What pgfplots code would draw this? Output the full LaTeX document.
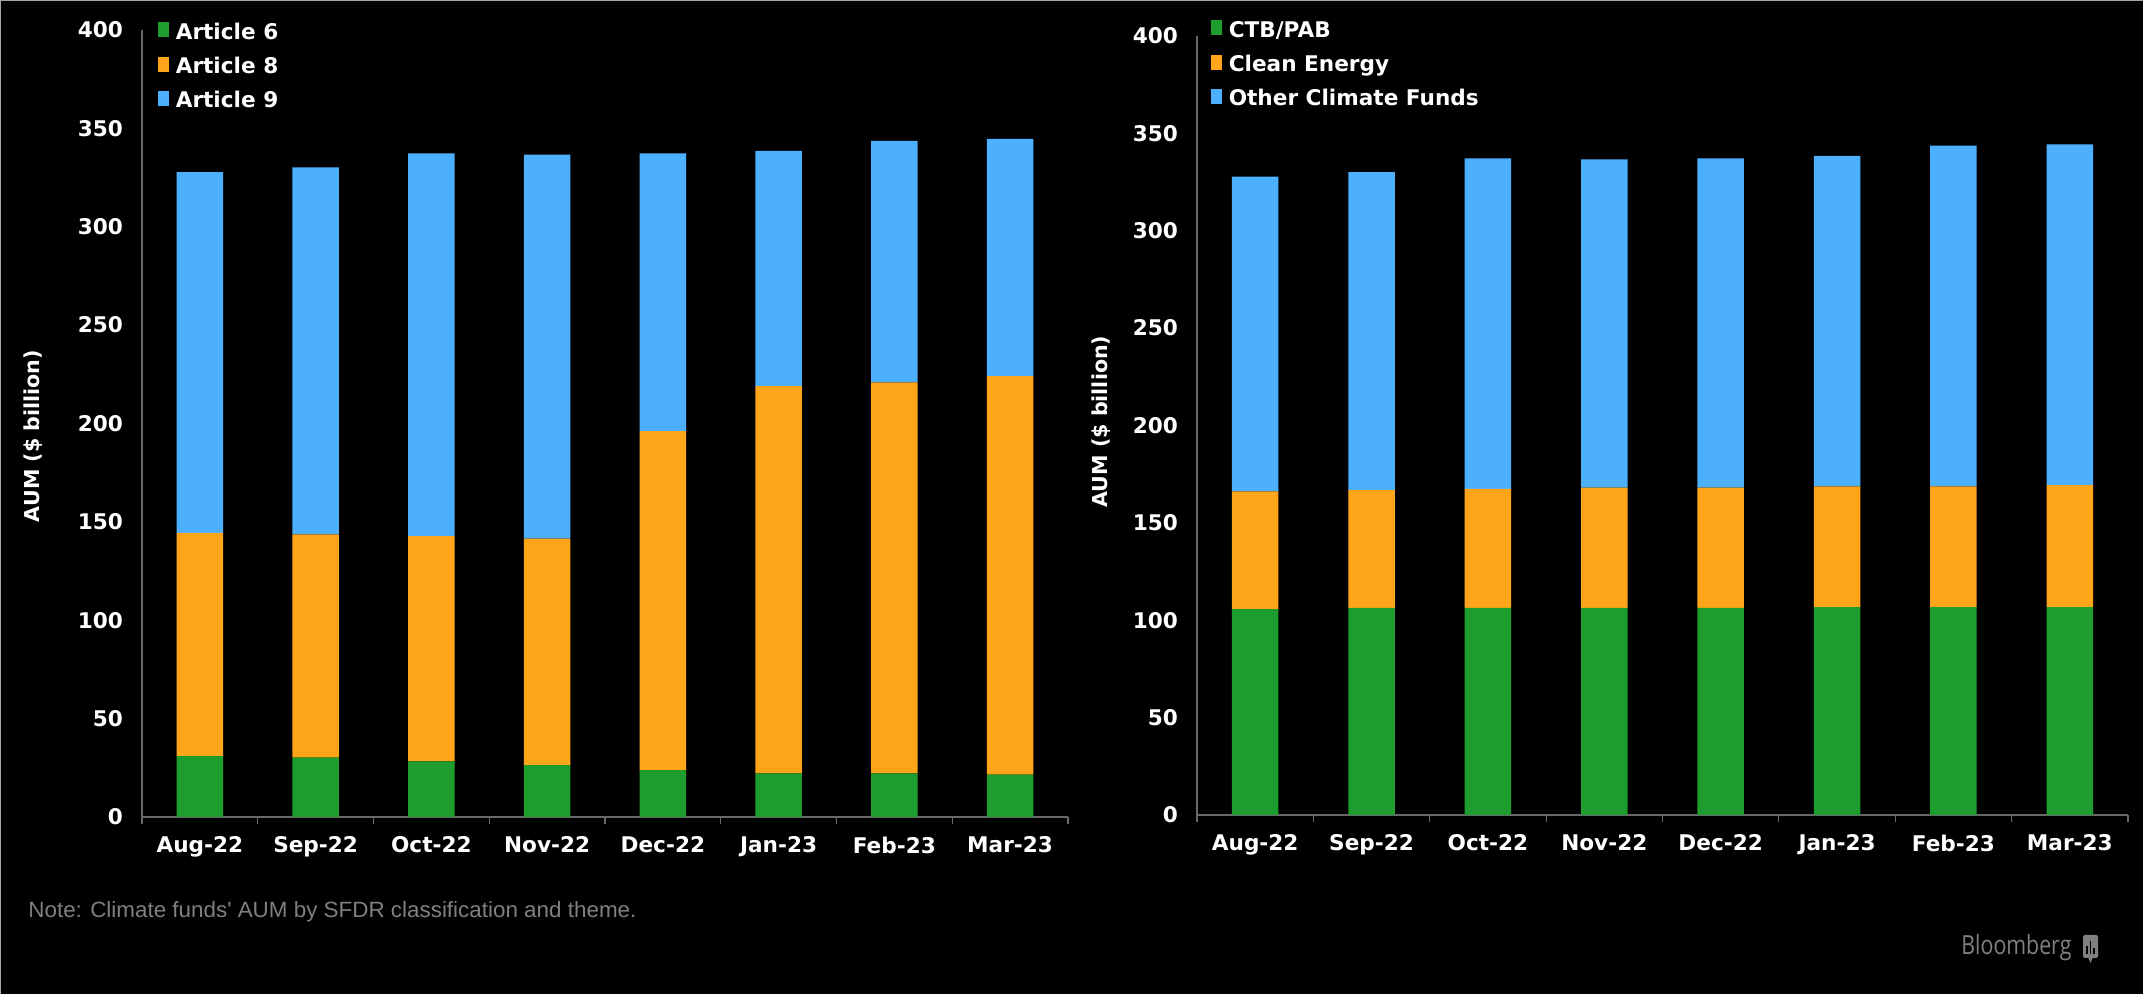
\documentclass[border=0pt]{standalone}
\usepackage{pgfplots}
\pgfplotsset{compat=1.18}
\usepackage{fontspec}
\setmainfont{DejaVu Sans}
\newfontfamily\notefont{Liberation Sans}
\newfontfamily\logofont{Open Sans}

\definecolor{cgreen}{RGB}{28,157,46}
\definecolor{corange}{RGB}{255,165,26}
\definecolor{cblue}{RGB}{77,176,255}
\definecolor{axgray}{RGB}{105,105,105}
\definecolor{notegray}{RGB}{128,128,128}

\pgfplotsset{
  ybar legend/.style={
    legend image code/.code={\fill[##1] (0pt,-3pt) rectangle (6pt,3pt);}
  },
  aum/.style={
    scale only axis,
    ybar stacked,
    bar width=0.4,
    xmin=-0.5, xmax=7.5,
    ymin=0, ymax=400,
    axis lines=left,
    axis line style={axgray, line width=0.6pt, -},
    xtick={0,...,7},
    xticklabels={Aug-22,Sep-22,Oct-22,Nov-22,Dec-22,Jan-23,Feb-23,Mar-23},
    minor xtick={-0.5,0.5,...,7.5},
    major tick length=0pt,
    minor tick length=3.5pt,
    tick align=outside,
    every minor tick/.style={axgray, line width=0.6pt},
    ytick={0,50,...,400},
    /pgf/number format/assume math mode=true,
    tick label style={font=\bfseries\fontsize{10.8}{12}\selectfont, text=white},
    xticklabel style={yshift=-6.4pt},
    yticklabel style={anchor=east, xshift=-6pt},
    label style={font=\bfseries\fontsize{10.3}{12}\selectfont, text=white},
    ylabel={AUM (\$ billion)},
    legend cell align=left,
    legend style={at={(axis description cs:0,1)}, anchor=north west,
      draw=none, fill=none, text=white, inner sep=0pt,
      font=\bfseries\fontsize{10.8}{12}\selectfont,
      row sep=4.6pt,
      /tikz/every odd column/.append style={column sep=1.8pt},
      nodes={inner sep=1pt, text height=8pt, text depth=2.5pt}},
  },
}

\begin{document}
\begin{tikzpicture}
\fill[black] (0,0) rectangle (1071.5pt,497pt);
\useasboundingbox (0,0) rectangle (1071.5pt,497pt);
\draw[gray!70, line width=1pt] (0,0) -- (0,497pt) -- (1071.5pt,497pt);

% left: SFDR classification
\begin{axis}[aum,
  at={(71pt,88.5pt)}, anchor=south west,
  width=463pt, height=393.5pt,
  ylabel style={at={(axis description cs:0,0.484)}, anchor=center, yshift=54.5pt},
  legend style={xshift=7.5pt, yshift=4.5pt},
]
\addplot[fill=cgreen, draw=none] coordinates {
(0,30.9) (1,30.2) (2,28.3) (3,26.4) (4,23.8) (5,22.2) (6,22.2) (7,21.5)};
\addplot[fill=corange, draw=none] coordinates {
(0,113.5) (1,113.5) (2,114.5) (3,115.1) (4,172.3) (5,196.8) (6,198.7) (7,202.6)};
\addplot[fill=cblue, draw=none] coordinates {
(0,183.3) (1,186.5) (2,194.5) (3,195.2) (4,141.2) (5,119.6) (6,122.8) (7,120.6)};
\legend{Article 6,Article 8,Article 9}
\end{axis}

% right: climate theme
\begin{axis}[aum,
  at={(598.5pt,89.5pt)}, anchor=south west,
  width=465.5pt, height=389.5pt,
  ylabel style={at={(axis description cs:0,0.505)}, anchor=center, yshift=48pt},
  legend style={xshift=6.5pt, yshift=8.5pt},
]
\addplot[fill=cgreen, draw=none] coordinates {
(0,105.7) (1,106.3) (2,106.3) (3,106.3) (4,106.3) (5,106.7) (6,106.7) (7,106.7)};
\addplot[fill=corange, draw=none] coordinates {
(0,60.5) (1,60.5) (2,61.2) (3,61.8) (4,61.8) (5,62.1) (6,62.1) (7,62.7)};
\addplot[fill=cblue, draw=none] coordinates {
(0,161.6) (1,163.3) (2,169.7) (3,168.5) (4,169.1) (5,169.7) (6,174.9) (7,175.0)};
\legend{CTB/PAB,Clean Energy,Other Climate Funds}
\end{axis}

\node[anchor=west, inner sep=0pt, text=notegray] at (14pt,41pt)
  {\resizebox{304pt}{8pt}{\notefont Note: Climate funds' AUM by SFDR classification and theme.}};
\node[anchor=west, inner sep=0pt, text=notegray] at (980.5pt,23pt)
  {\resizebox{55pt}{10pt}{\logofont Bloomberg}};
\fill[notegray, rounded corners=1pt] (1041.5pt,18pt) rectangle (1049pt,29.5pt);
\fill[notegray] (1044pt,18.5pt) -- (1045.25pt,15.5pt) -- (1046.5pt,18.5pt) -- cycle;
\fill[black] (1043pt,20pt) rectangle (1043.9pt,24pt);
\fill[black] (1044.8pt,20pt) rectangle (1045.7pt,26.5pt);
\fill[black] (1046.6pt,20pt) rectangle (1047.5pt,23pt);
\end{tikzpicture}
\end{document}
